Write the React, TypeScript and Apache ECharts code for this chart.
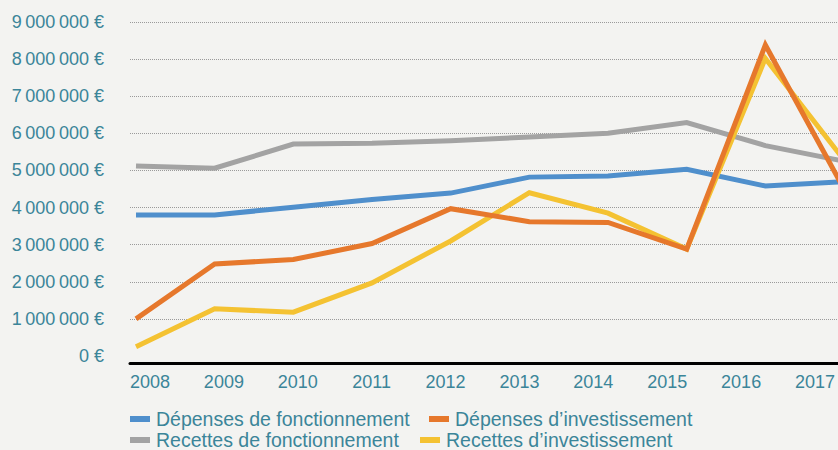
import React, { useEffect, useRef } from "react";
import * as echarts from "echarts";

const years = ["2008", "2009", "2010", "2011", "2012", "2013", "2014", "2015", "2016", "2017"];
const depensesFonctionnement = [3800000, 3800000, 4010000, 4220000, 4390000, 4820000, 4850000, 5030000, 4580000, 4700000];
const recettesFonctionnement = [5120000, 5060000, 5710000, 5730000, 5800000, 5900000, 6000000, 6290000, 5670000, 5250000];
const depensesInvestissement = [1000000, 2480000, 2600000, 3030000, 3970000, 3620000, 3600000, 2880000, 8380000, 4500000];
const recettesInvestissement = [250000, 1270000, 1180000, 1970000, 3100000, 4400000, 3850000, 2880000, 8020000, 5280000];
const yTicks = { min: 0, max: 9000000, interval: 1000000 };

const TEXT = "#3b8599";
const FONT = "'Liberation Sans', Arial, Helvetica, sans-serif";

function fmtEuro(v: number): string {
  const s = String(Math.round(v));
  const parts: string[] = [];
  for (let i = s.length; i > 0; i -= 3) parts.unshift(s.slice(Math.max(0, i - 3), i));
  return parts.join("\u2009") + " €";
}

export default function App() {
  const ref = useRef<HTMLDivElement>(null);
  useEffect(() => {
    if (!ref.current) return;
    const chart = echarts.init(ref.current, null, { renderer: "svg" });
    const toPairs = (arr: number[]) => years.map((y, i) => [Number(y), arr[i]]);
    const step = 78.67;
    const xMin = 2008 - 6 / step;
    const xMax = xMin + 728 / step;
    const lineSeries = (name: string, color: string, data: number[]) => ({
      name,
      type: "line",
      xAxisIndex: 0,
      yAxisIndex: 0,
      data: toPairs(data),
      symbol: "none",
      color,
      lineStyle: { width: 5, color, join: "miter", cap: "butt" },
      itemStyle: { color },
    });
    const legend = (name: string, left: number, top: number) => ({
      data: [name],
      left,
      top,
      icon: "rect",
      itemWidth: 20,
      itemHeight: 6,
      padding: 0,
      selectedMode: false,
      textStyle: { color: TEXT, fontSize: 19.5, lineHeight: 18, fontFamily: FONT, padding: [0, 0, 0, 1] },
    });
    chart.setOption({
      animation: false,
      backgroundColor: "#f3f3f1",
      textStyle: { fontFamily: FONT },
      grid: [
        { left: 130, width: 728, top: 22, bottom: 94 },
        { left: 150, width: 665, top: 22, bottom: 94 },
      ],
      xAxis: [
        {
          gridIndex: 0,
          type: "value",
          min: xMin,
          max: xMax,
          offset: 7,
          axisLine: { show: true, onZero: false, lineStyle: { color: "#000", width: 3 } },
          axisTick: { show: false },
          axisLabel: { show: false },
          splitLine: { show: false },
        },
        {
          gridIndex: 1,
          type: "category",
          data: years,
          boundaryGap: false,
          offset: 7,
          axisLine: { show: false, onZero: false },
          axisTick: { show: false },
          axisLabel: { color: TEXT, fontSize: 18, fontFamily: FONT, margin: 10 },
          splitLine: { show: false },
        },
      ],
      yAxis: [
        {
          gridIndex: 0,
          type: "value",
          min: yTicks.min,
          max: yTicks.max,
          interval: yTicks.interval,
          axisLine: { show: false },
          axisTick: { show: false },
          axisLabel: {
            color: TEXT,
            fontSize: 18,
            fontFamily: FONT,
            margin: 26,
            padding: [0, 0, 5, 0],
            formatter: (v: number) => fmtEuro(v),
          },
          splitLine: {
            show: true,
            showMinLine: false,
            lineStyle: { type: "dotted", color: "#9a9a9a", width: 1 },
          },
        },
        {
          gridIndex: 1,
          type: "value",
          min: yTicks.min,
          max: yTicks.max,
          show: false,
        },
      ],
      legend: [
        legend("Dépenses de fonctionnement", 130, 409),
        legend("Dépenses d’investissement", 429, 409),
        legend("Recettes de fonctionnement", 130, 430),
        legend("Recettes d’investissement", 420, 430),
      ],
      series: [
        lineSeries("Dépenses de fonctionnement", "#4f8fcc", depensesFonctionnement),
        lineSeries("Recettes de fonctionnement", "#a3a3a3", recettesFonctionnement),
        lineSeries("Recettes d’investissement", "#f4c232", recettesInvestissement),
        lineSeries("Dépenses d’investissement", "#e6782c", depensesInvestissement),
      ],
    });
    return () => chart.dispose();
  }, []);
  return (
    <div style={{ position: "fixed", left: 0, top: 0, width: 838, height: 450, overflow: "hidden", background: "#f3f3f1" }}>
      <div ref={ref} style={{ width: 860, height: 450 }} />
    </div>
  );
}
